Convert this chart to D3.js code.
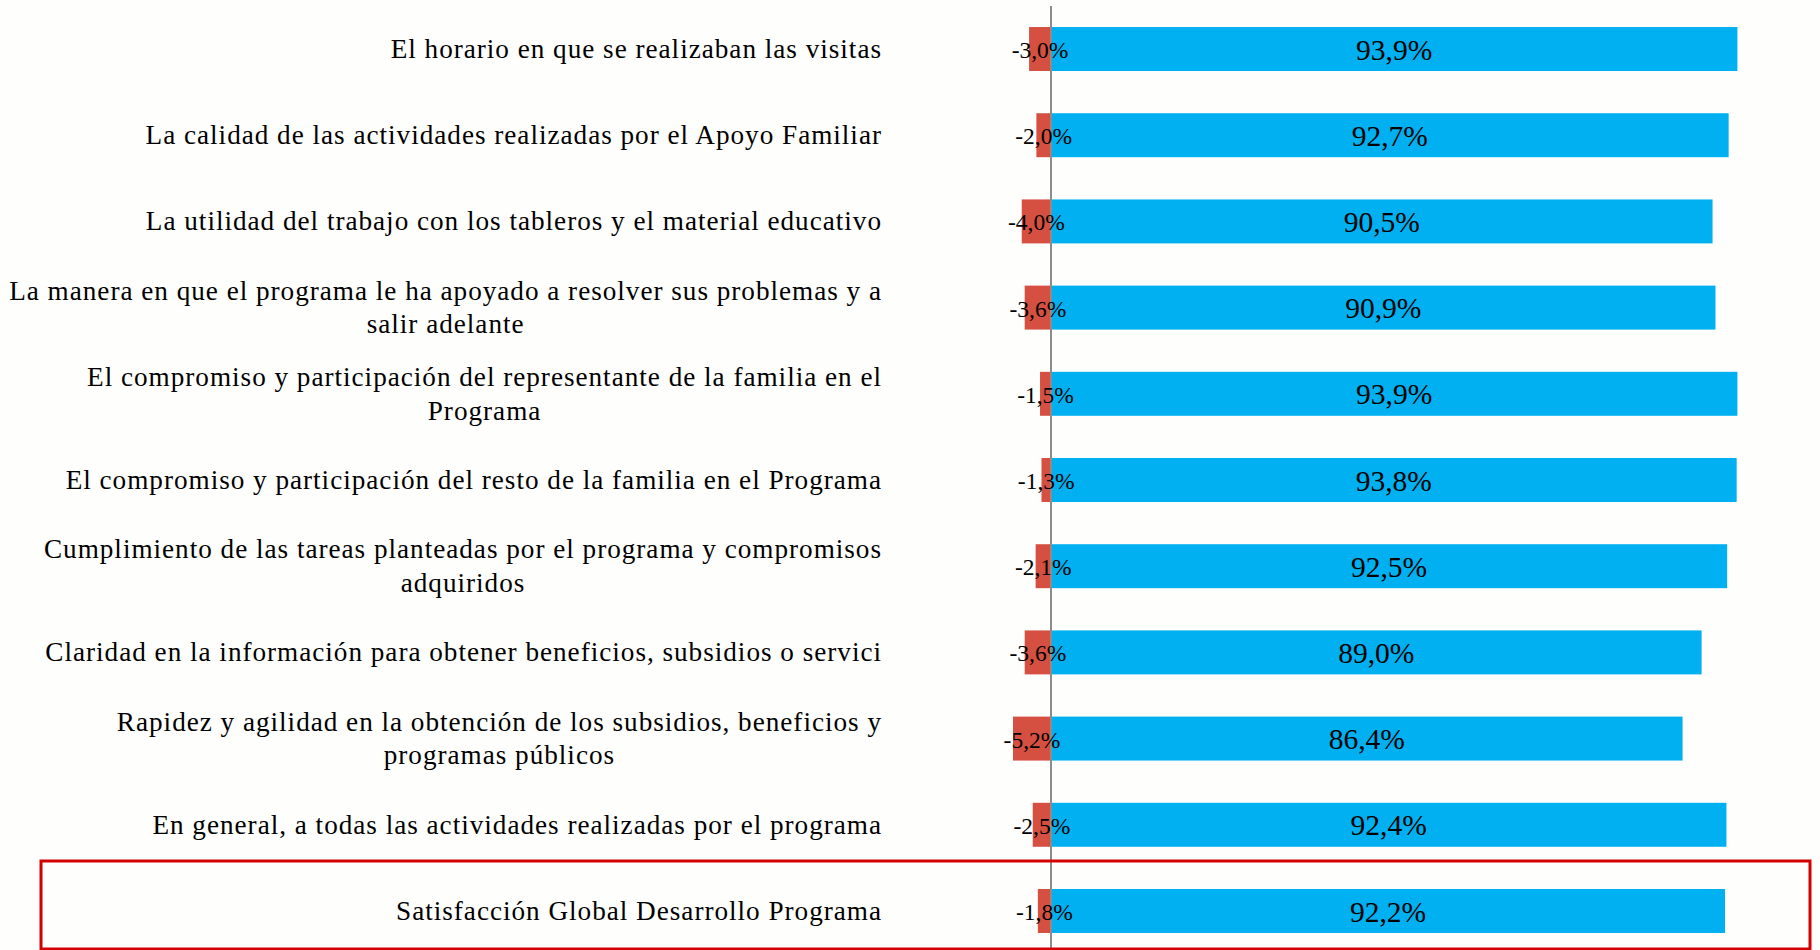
<!DOCTYPE html>
<html lang="es">
<head>
<meta charset="UTF-8">
<title>Satisfacción Desarrollo Programa</title>
<script src="https://cdn.jsdelivr.net/npm/d3@7"></script>
<style>
  html, body { margin: 0; padding: 0; background: #fefefd; }
  svg { display: block; }
  text { font-family: "Liberation Serif", "Times New Roman", serif; fill: #000; }
</style>
</head>
<body>
<svg width="1820" height="950"></svg>
<script>

    // categorias (| = salto de linea)
    var categories = [
        "El horario en que se realizaban las visitas",
        "La calidad de las actividades realizadas por el Apoyo Familiar",
        "La utilidad del trabajo con los tableros y el material educativo",
        "La manera en que el programa le ha apoyado a resolver sus problemas y a|salir adelante",
        "El compromiso y participación del representante de la familia en el|Programa",
        "El compromiso y participación del resto de la familia en el Programa",
        "Cumplimiento de las tareas planteadas por el programa y compromisos|adquiridos",
        "Claridad en la información para obtener beneficios, subsidios o servici",
        "Rapidez y agilidad en la obtención de los subsidios, beneficios y|programas públicos",
        "En general, a todas las actividades realizadas por el programa",
        "Satisfacción Global Desarrollo Programa"
    ];

    // insatisfechos (negativo) y satisfechos
    var negativos = [-3.0, -2.0, -4.0, -3.6, -1.5, -1.3, -2.1, -3.6, -5.2, -2.5, -1.8];
    var positivos = [93.9, 92.7, 90.5, 90.9, 93.9, 93.8, 92.5, 89.0, 86.4, 92.4, 92.2];

    var svg = d3.select("svg");

    var es = d3.formatLocale({decimal: ",", thousands: ".", grouping: [3], currency: ["", "€"], minus: "-"});
    var fmt = es.format(".1f");

    var x = d3.scaleLinear()
        .domain([0, 100])
        .range([1051, 1782]);

    var y = d3.scaleBand()
        .domain(d3.range(categories.length))
        .range([-15.2, 975.2])
        .padding(0.49);

    var rows = categories.map(function(c, i) {
        return {i: i, label: c, neg: negativos[i], pos: positivos[i]};
    });

    // barras azules
    svg.append("g")
        .selectAll("rect")
        .data(rows)
        .enter().append("rect")
        .attr("x", x(0))
        .attr("y", function(d) { return y(d.i); })
        .attr("width", function(d) { return x(d.pos) - x(0); })
        .attr("height", y.bandwidth())
        .attr("fill", "#00b0f0");

    // barras rojas
    svg.append("g")
        .selectAll("rect")
        .data(rows)
        .enter().append("rect")
        .attr("x", function(d) { return x(d.neg); })
        .attr("y", function(d) { return y(d.i); })
        .attr("width", function(d) { return x(0) - x(d.neg); })
        .attr("height", y.bandwidth())
        .attr("fill", "#d55041");

    // eje vertical
    svg.append("line")
        .attr("x1", x(0)).attr("x2", x(0))
        .attr("y1", 6).attr("y2", 950)
        .attr("stroke", "#8c8c8c")
        .attr("stroke-width", 2);

    // etiquetas de valor
    svg.append("g")
        .selectAll("text")
        .data(rows)
        .enter().append("text")
        .attr("x", function(d) { return (x(0) + x(d.pos)) / 2; })
        .attr("y", function(d) { return y(d.i) + y.bandwidth() / 2; })
        .attr("dy", "0.36em")
        .attr("text-anchor", "middle")
        .style("font-size", "29.5px")
        .text(function(d) { return fmt(d.pos) + "%"; });

    svg.append("g")
        .selectAll("text")
        .data(rows)
        .enter().append("text")
        .attr("x", function(d) { return (x(0) + x(d.neg)) / 2; })
        .attr("y", function(d) { return y(d.i) + y.bandwidth() / 2; })
        .attr("dy", "0.38em")
        .attr("text-anchor", "middle")
        .style("font-size", "23.5px")
        .text(function(d) { return fmt(d.neg) + "%"; });

    // etiquetas de categoria: centradas entre si, bloque alineado a la derecha
    var rightEdge = 882, lineH = 33.6;
    var labels = svg.append("g")
        .selectAll("text")
        .data(rows)
        .enter().append("text")
        .style("font-size", "27.2px")
        .style("letter-spacing", "0.98px")
        .attr("text-anchor", "middle");

    labels.each(function(d) {
        var t = d3.select(this);
        var lines = d.label.split("|");
        var cy = y(d.i) + y.bandwidth() / 2;
        lines.forEach(function(l, k) {
            t.append("tspan")
                .attr("y", cy + (k - (lines.length - 1) / 2) * lineH)
                .attr("dy", "0.33em")
                .text(l);
        });
        var w = d3.max(t.selectAll("tspan").nodes(), function(n) { return n.getComputedTextLength(); });
        t.selectAll("tspan").attr("x", rightEdge - w / 2);
    });

    // recuadro rojo del global
    svg.append("rect")
        .attr("x", 41)
        .attr("y", 861)
        .attr("width", 1810 - 41)
        .attr("height", 88)
        .attr("fill", "none")
        .attr("stroke", "#d40000")
        .attr("stroke-width", 3);

</script>
</body>
</html>
